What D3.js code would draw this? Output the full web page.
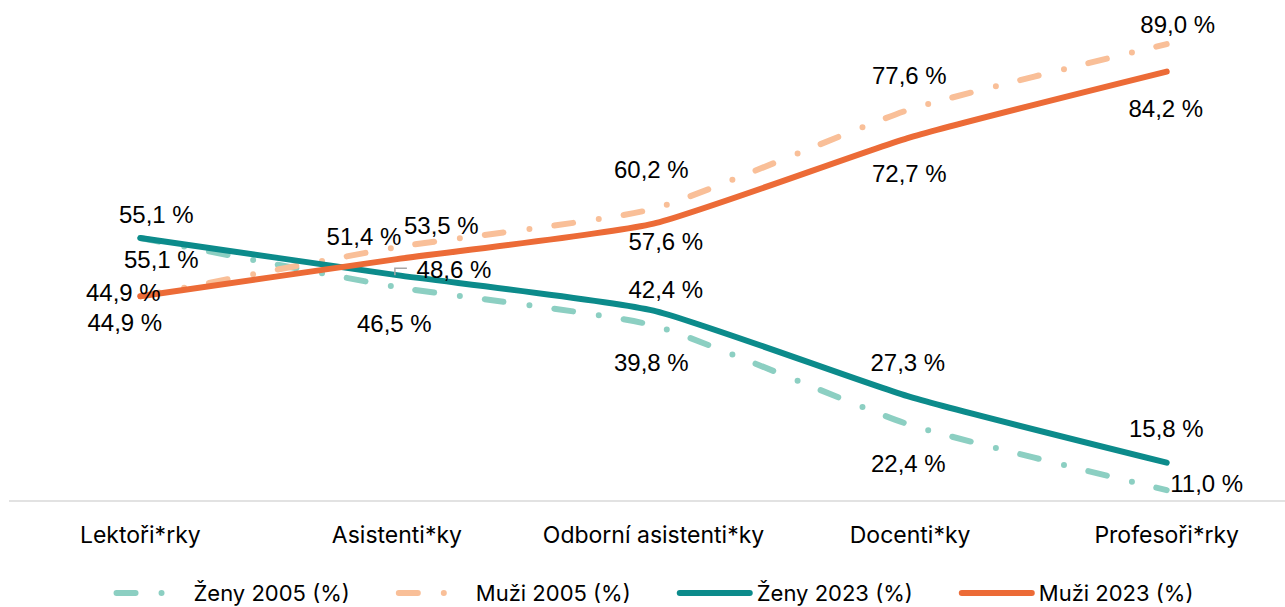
<!DOCTYPE html>
<html>
<head>
<meta charset="utf-8">
<script src="https://cdn.jsdelivr.net/npm/d3@7"></script>
<style>
  html, body { margin: 0; padding: 0; background: #ffffff; }
  svg { display: block; }
</style>
</head>
<body>
<div id="chart"></div>
<script>
// ---- data ----
const categories = ["Lektoři*rky", "Asistenti*ky", "Odborní asistenti*ky", "Docenti*ky", "Profesoři*rky"];
const zeny2005 = [55.1, 46.5, 39.8, 22.4, 11.0];
const muzi2005 = [44.9, 53.5, 60.2, 77.6, 89.0];
const zeny2023 = [55.1, 48.6, 42.4, 27.3, 15.8];
const muzi2023 = [44.9, 51.4, 57.6, 72.7, 84.2];
const seriesNames = ["Ženy 2005 (%)", "Muži 2005 (%)", "Ženy 2023 (%)", "Muži 2023 (%)"];

// ---- layout / style (not data) ----
const W = 1285, H = 607;
const colors = ["#8ccfc2", "#f9bf98", "#0c8b8b", "#ec6b37"];
const dashed = [true, true, false, false];
const dashArray = "19,26,0,25";
// label offsets (dx, dy) from each point, per series
const labelOffsets = [
  [[21, 21.6], [-2.6, 36.4], [-2.2, 37], [-1.8, 38], [40, -6.6]],
  [[-17, -3.8], [44.4, -22], [-2.2, -39], [-0.8, -34.3], [11, -19.6]],
  [[16, -23.4], [57, -5.6], [12.3, -21], [-2.3, -34.4], [-0.4, -34.2]],
  [[-15.5, 26.2], [-33, -22.6], [12.3, 17.9], [-0.8, 36.2], [-0.9, 37]]
];

const seriesValues = [zeny2005, muzi2005, zeny2023, muzi2023];
const series = seriesNames.map((name, i) => ({
  name, color: colors[i], dashed: dashed[i],
  values: seriesValues[i].map((v, j) => ({ cat: categories[j], v, j }))
}));

const svg = d3.select("#chart").append("svg").attr("width", W).attr("height", H);

const x = d3.scaleBand().domain(categories).range([12, 1295]).padding(0);
const cx = c => x(c) + x.bandwidth() / 2;
const y = d3.scaleLinear().domain([9.1, 90]).range([501, 38.4]);

// category axis
const axis = d3.axisBottom(x).tickSize(0).tickPadding(0);
const gx = svg.append("g").attr("transform", `translate(0,${y(9.1)})`).call(axis);
gx.select(".domain").remove();
svg.append("line")
  .attr("x1", 9).attr("x2", W).attr("y1", y(9.1)).attr("y2", y(9.1))
  .attr("stroke", "#d9d9d9").attr("stroke-width", 1.6);
gx.selectAll(".tick text")
  .attr("y", 0).attr("dy", 41.5)
  .attr("font-family", "Inter, 'Open Sans', sans-serif")
  .attr("font-size", 23)
  .attr("fill", "#000");

const line = d3.line()
  .x(d => cx(d.cat))
  .y(d => y(d.v))
  .curve(d3.curveCardinal.tension(0.5));

svg.append("g").selectAll("path").data(series).join("path")
  .attr("d", s => line(s.values))
  .attr("fill", "none")
  .attr("stroke", s => s.color)
  .attr("stroke-width", 6)
  .attr("stroke-linecap", "round")
  .attr("stroke-linejoin", "round")
  .attr("stroke-dasharray", s => s.dashed ? dashArray : null);

// leader line for Ženy 2023 / Asistenti label
const lp = { x: cx(categories[1]), y: y(zeny2023[1]) };
svg.append("path")
  .attr("d", `M${lp.x - 2},${lp.y} V${lp.y - 7} H${lp.x + 10}`)
  .attr("fill", "none").attr("stroke", "#a6a6a6").attr("stroke-width", 1.5);

// data labels
const fmt = v => d3.format(".1f")(v).replace(".", ",") + " %";
const lg = svg.append("g");
series.forEach((s, si) => {
  lg.selectAll(null).data(s.values).join("text")
    .attr("x", d => cx(d.cat) + labelOffsets[si][d.j][0])
    .attr("y", d => y(d.v) + labelOffsets[si][d.j][1])
    .attr("dy", "0.36em")
    .attr("text-anchor", "middle")
    .attr("font-family", "'Liberation Sans', Arial, sans-serif")
    .attr("font-size", 24)
    .attr("fill", "#000")
    .text(d => fmt(d.v));
});

// legend
const legY = 593;
const leg = svg.append("g");
const items = leg.selectAll("g").data(series).join("g");
items.append("line")
  .attr("x1", 3).attr("x2", 73).attr("y1", 0).attr("y2", 0)
  .attr("stroke", s => s.color)
  .attr("stroke-width", 6)
  .attr("stroke-linecap", "round")
  .attr("stroke-dasharray", s => s.dashed ? dashArray : null);
items.append("text")
  .attr("x", 80).attr("y", 0).attr("dy", "0.36em")
  .attr("font-family", "Inter, 'Open Sans', sans-serif")
  .attr("font-size", 22)
  .attr("fill", "#000")
  .text(s => s.name);
let offs = [], acc = 0;
items.each(function (s, i) {
  const tw = d3.select(this).select("text").node().getComputedTextLength();
  offs.push(acc);
  acc += 80 + tw + (i < series.length - 1 ? 46 : 0);
});
const legStart = 653.5 - acc / 2;
items.attr("transform", (s, i) => `translate(${legStart + offs[i]},${legY})`);
</script>
</body>
</html>
